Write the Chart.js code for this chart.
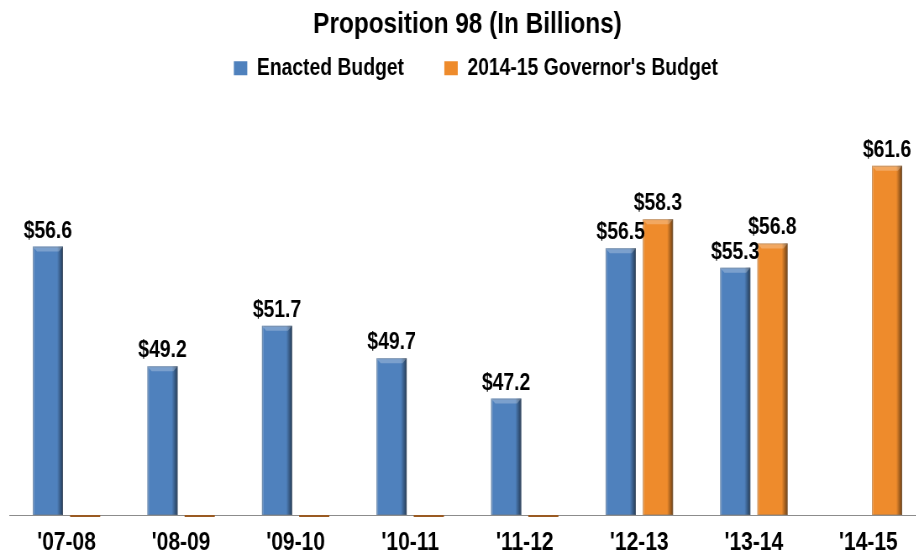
<!DOCTYPE html>
<html>
<head>
<meta charset="utf-8">
<script src="https://cdn.jsdelivr.net/npm/chart.js@4"></script>
<style>
  html, body { margin: 0; padding: 0; background: #fff; overflow: hidden; }
  /* the source picture is squeezed sideways, so draw wide and squeeze */
  #chart { transform: scaleX(0.84); transform-origin: 0 0; }
</style>
</head>
<body>
<canvas id="chart" width="1115" height="553"></canvas>
<script>
'use strict'

const years = ["'07-08", "'08-09", "'09-10", "'10-11", "'11-12", "'12-13", "'13-14", "'14-15"]
const enacted = [56.6, 49.2, 51.7, 49.7, 47.2, 56.5, 55.3, null]
const governors = [0, 0, 0, 0, 0, 58.3, 56.8, 61.6]
const seriesNames = ['Enacted Budget', "2014-15 Governor's Budget"]

const FONT = "'Liberation Sans', Arial, sans-serif"
const BLUE = '#4F81BD'
const ORANGE = '#EE8B2C'
const Y_MIN = 40

// dark right edge + light top, like the old office bevel bars
const bevelBars = {
  id: 'bevelBars',
  afterDatasetsDraw (chart) {
    const ctx = chart.ctx
    const area = chart.chartArea
    ctx.save()
    chart.data.datasets.forEach((ds, i) => {
      const meta = chart.getDatasetMeta(i)
      meta.data.forEach((bar, j) => {
        const v = ds.data[j]
        if (v === null || v === undefined) return
        const { x, y, width } = bar.getProps(['x', 'y', 'width'], true)
        const l = x - width / 2
        const r = x + width / 2
        if (v <= Y_MIN) {
          ctx.fillStyle = '#9A5A22'
          ctx.fillRect(l, area.bottom, width, 2)
          return
        }
        const h = area.bottom - y
        let g = ctx.createLinearGradient(r - 7, 0, r, 0)
        g.addColorStop(0, 'rgba(0,0,0,0)')
        g.addColorStop(1, 'rgba(0,0,0,0.55)')
        ctx.fillStyle = g
        ctx.fillRect(r - 7, y, 7, h)
        ctx.fillStyle = 'rgba(255,255,255,0.2)'
        ctx.fillRect(l, y, 2, h)
        // top bevel
        ctx.beginPath()
        ctx.moveTo(l, y)
        ctx.lineTo(r, y)
        ctx.lineTo(r - 5, y + 5)
        ctx.lineTo(l + 5, y + 5)
        ctx.closePath()
        ctx.fillStyle = 'rgba(255,255,255,0.25)'
        ctx.fill()
        ctx.strokeStyle = 'rgba(120,120,120,0.35)'
        ctx.lineWidth = 1
        ctx.strokeRect(l + 0.5, y + 0.5, width - 1, h - 1)
      })
    })
    ctx.restore()
  }
}

const valueLabels = {
  id: 'valueLabels',
  afterDatasetsDraw (chart) {
    const ctx = chart.ctx
    ctx.save()
    ctx.font = 'bold 23px ' + FONT
    ctx.fillStyle = '#000'
    ctx.textAlign = 'center'
    ctx.textBaseline = 'alphabetic'
    chart.data.datasets.forEach((ds, i) => {
      chart.getDatasetMeta(i).data.forEach((bar, j) => {
        const v = ds.data[j]
        if (v === null || v <= Y_MIN) return
        ctx.fillText('$' + v.toFixed(1), bar.x, bar.y - 9)
      })
    })
    ctx.restore()
  }
}

// taller legend box, nudged a little to the right
const legendBox = {
  id: 'legendBox',
  beforeInit (chart) {
    const legend = chart.legend
    const fit = legend.fit
    legend.fit = function () {
      fit.bind(legend)()
      this.height = 102
    }
    const draw = legend.draw
    legend.draw = function () {
      chart.ctx.save()
      chart.ctx.translate(10, 0)
      draw.bind(legend)()
      chart.ctx.restore()
    }
  }
}

new Chart(document.getElementById('chart'), {
  type: 'bar',
  data: {
    labels: years,
    datasets: [
      {
        label: seriesNames[0],
        data: enacted,
        backgroundColor: BLUE
      },
      {
        label: seriesNames[1],
        data: governors,
        backgroundColor: ORANGE
      }
    ]
  },
  options: {
    responsive: false,
    animation: false,
    categoryPercentage: 0.65,
    barPercentage: 0.81,
    datasets: { bar: { clip: 0 } },
    layout: { padding: { left: 11, right: 13, top: 0, bottom: 0 } },
    plugins: {
      title: {
        display: true,
        text: 'Proposition 98 (In Billions)',
        color: '#000',
        font: { family: FONT, size: 29, weight: 'bold' },
        padding: { top: 8, bottom: -34 }
      },
      legend: {
        display: true,
        labels: {
          color: '#000',
          font: { family: FONT, size: 23, weight: 'bold' },
          boxWidth: 16,
          boxHeight: 14,
          padding: 48
        }
      },
      tooltip: { enabled: false }
    },
    scales: {
      x: {
        grid: { display: false, drawTicks: false },
        border: { display: true, color: '#8C8C8C', width: 1 },
        ticks: {
          color: '#000',
          font: { family: FONT, size: 25, weight: 'bold' },
          padding: 13
        },
        afterFit (scale) {
          scale.height = 38
        }
      },
      y: {
        display: false,
        beginAtZero: false,
        min: Y_MIN,
        max: 65
      }
    }
  },
  plugins: [legendBox, bevelBars, valueLabels]
})
</script>
</body>
</html>
